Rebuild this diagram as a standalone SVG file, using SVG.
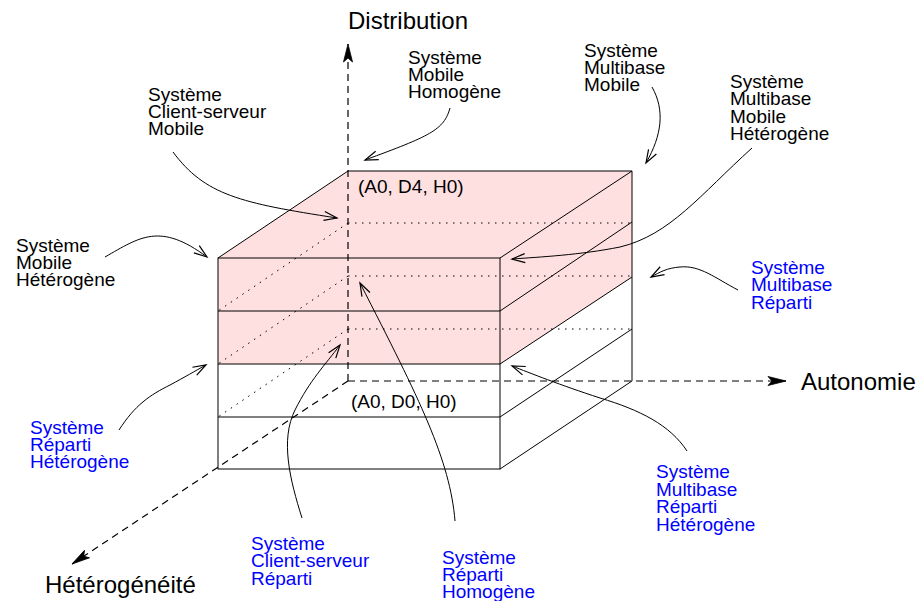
<svg xmlns="http://www.w3.org/2000/svg" width="920" height="601" viewBox="0 0 920 601">
<defs>
<style>
text{font-family:"Liberation Sans",Arial,sans-serif;fill:#000}
.lab{font-size:19px}
.blue{fill:#0000ff}
.axlab{font-size:24px}
.edge{fill:none;stroke:#000;stroke-width:1}
.dot{fill:none;stroke:#000;stroke-width:1;stroke-dasharray:1.5,5.5}
.dash{fill:none;stroke:#000;stroke-width:1.2;stroke-dasharray:7,5}
.conn{fill:none;stroke:#000;stroke-width:1;marker-end:url(#open)}
.pink{fill:#ffe0e0;stroke:none}
</style>
<marker id="open" viewBox="-14 -6 16 12" refX="0" refY="0" markerWidth="16" markerHeight="12" markerUnits="userSpaceOnUse" orient="auto" overflow="visible">
<path d="M-13,-4.5 L0,0 L-13,4.5" fill="none" stroke="#000" stroke-width="1.2"/>
</marker>
<marker id="solid" viewBox="-20 -6 22 12" refX="0" refY="0" markerWidth="22" markerHeight="12" markerUnits="userSpaceOnUse" orient="auto" overflow="visible">
<path d="M0,0 L-18,-4.5 L-14,0 L-18,4.5 Z" fill="#000" stroke="#000" stroke-width="0.8"/>
</marker>
</defs>

<g id="cube">
<polygon class="pink" points="218,258 348,171 632,171 632,277 500,364 218,364"/>
<line class="dot" x1="348" y1="223" x2="632" y2="223"/>
<line class="dot" x1="348" y1="276" x2="632" y2="276"/>
<line class="dot" x1="348" y1="329" x2="632" y2="329"/>
<line class="dot" x1="348" y1="223" x2="218" y2="311"/>
<line class="dot" x1="348" y1="276" x2="218" y2="364"/>
<line class="dot" x1="348" y1="329" x2="218" y2="417"/>
<polyline class="edge" points="218,258 348,171 632,171 632,381 500,469"/>
<rect class="edge" x="218" y="258" width="282" height="211"/>
<line class="edge" x1="218" y1="311" x2="500" y2="311"/>
<line class="edge" x1="218" y1="364" x2="500" y2="364" stroke="#6f5f5f"/>
<line class="edge" x1="218" y1="417" x2="500" y2="417"/>
<line class="edge" x1="500" y1="258" x2="632" y2="171"/>
<line class="edge" x1="500" y1="311" x2="632" y2="222"/>
<line class="edge" x1="500" y1="364" x2="632" y2="277"/>
<line class="edge" x1="500" y1="417" x2="632" y2="329"/>
<text class="lab" x="358" y="193">(A0, D4, H0)</text>
<text class="lab" x="351" y="408">(A0, D0, H0)</text>
</g>

<g id="axes">
<line class="dash" x1="348" y1="381" x2="348" y2="44" marker-end="url(#solid)"/>
<line class="dash" x1="348" y1="381" x2="786" y2="381" marker-end="url(#solid)"/>
<line class="dash" x1="348" y1="381" x2="72" y2="564" marker-end="url(#solid)"/>
</g>

<g id="axis-distribution"><text class="axlab" x="348" y="29">Distribution</text></g>
<g id="axis-autonomie"><text class="axlab" x="801" y="390">Autonomie</text></g>
<g id="axis-heterogeneite"><text class="axlab" x="45" y="593">Hétérogénéité</text></g>

<g id="n-mobile-homogene"><text class="lab" x="408" y="64"><tspan x="408">Système</tspan><tspan x="408" dy="17">Mobile</tspan><tspan x="408" dy="17">Homogène</tspan></text></g>
<g id="n-cs-mobile"><text class="lab" x="148" y="101"><tspan x="148">Système</tspan><tspan x="148" dy="17">Client-serveur</tspan><tspan x="148" dy="17">Mobile</tspan></text></g>
<g id="n-mobile-heterogene"><text class="lab" x="16" y="252"><tspan x="16">Système</tspan><tspan x="16" dy="17">Mobile</tspan><tspan x="16" dy="17">Hétérogène</tspan></text></g>
<g id="n-multibase-mobile"><text class="lab" x="584" y="57"><tspan x="584">Système</tspan><tspan x="584" dy="17">Multibase</tspan><tspan x="584" dy="17">Mobile</tspan></text></g>
<g id="n-multibase-mobile-het"><text class="lab" x="730" y="88"><tspan x="730">Système</tspan><tspan x="730" dy="17.3">Multibase</tspan><tspan x="730" dy="17.3">Mobile</tspan><tspan x="730" dy="17.3">Hétérogène</tspan></text></g>
<g id="n-multibase-reparti"><text class="lab blue" x="751" y="274"><tspan x="751">Système</tspan><tspan x="751" dy="17.3">Multibase</tspan><tspan x="751" dy="17.3">Réparti</tspan></text></g>
<g id="n-reparti-heterogene"><text class="lab blue" x="30" y="434"><tspan x="30">Système</tspan><tspan x="30" dy="17.2">Réparti</tspan><tspan x="30" dy="17.2">Hétérogène</tspan></text></g>
<g id="n-cs-reparti"><text class="lab blue" x="251" y="550"><tspan x="251">Système</tspan><tspan x="251" dy="17.3">Client-serveur</tspan><tspan x="251" dy="17.3">Réparti</tspan></text></g>
<g id="n-reparti-homogene"><text class="lab blue" x="442" y="564"><tspan x="442">Système</tspan><tspan x="442" dy="17.2">Réparti</tspan><tspan x="442" dy="17.2">Homogène</tspan></text></g>
<g id="n-multibase-reparti-het"><text class="lab blue" x="656" y="478"><tspan x="656">Système</tspan><tspan x="656" dy="17.5">Multibase</tspan><tspan x="656" dy="17.5">Réparti</tspan><tspan x="656" dy="17.5">Hétérogène</tspan></text></g>

<g id="connectors">
<path class="conn" d="M173,152 C205,195 240,203 337,218"/>
<path class="conn" d="M450,108 C444,130 430,136 365,160"/>
<path class="conn" d="M105,257 C140,237 160,222 207,257"/>
<path class="conn" d="M652,87 C665,110 662,135 646,163"/>
<path class="conn" d="M752,148 C700,195 670,235 620,247 C580,255 540,257 512,259"/>
<path class="conn" d="M738,290 C715,278 700,265 680,267 C667,268 660,272 651,277"/>
<path class="conn" d="M302,518 C290,480 280,440 295,410 C310,380 325,365 340,345"/>
<path class="conn" d="M455,521 C450,460 420,400 360,283"/>
<path class="conn" d="M687,451 C670,425 640,410 600,398 C560,385 530,373 512,366"/>
<path class="conn" d="M119,430 C135,405 150,395 170,385 C185,377 195,371 206,365"/>
</g>
</svg>
